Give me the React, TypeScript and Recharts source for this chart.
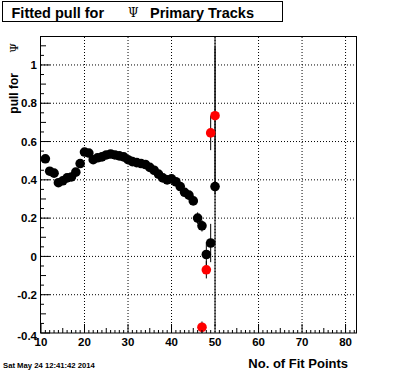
import { ScatterChart, Scatter, XAxis, YAxis, CartesianGrid, ErrorBar } from 'recharts'

// black graph: fit points 11..50
const fitPoints = [
  11, 12, 13, 14, 15, 16, 17, 18, 19, 20,
  21, 22, 23, 24, 25, 26, 27, 28, 29, 30,
  31, 32, 33, 34, 35, 36, 37, 38, 39, 40,
  41, 42, 43, 44, 45, 46, 47, 48, 49, 50,
]
const pullMean = [
  0.51, 0.445, 0.435, 0.385, 0.395, 0.41, 0.415, 0.44, 0.485, 0.545,
  0.54, 0.505, 0.515, 0.52, 0.53, 0.535, 0.53, 0.525, 0.52, 0.505,
  0.495, 0.49, 0.485, 0.48, 0.465, 0.45, 0.43, 0.41, 0.4, 0.405,
  0.39, 0.365, 0.335, 0.32, 0.29, 0.2, 0.16, 0.01, 0.07, 0.365,
]
const pullMeanErr = [
  0.02, 0.01, 0.01, 0.01, 0.01, 0.01, 0.01, 0.01, 0.01, 0.01,
  0.01, 0.01, 0.01, 0.01, 0.01, 0.01, 0.01, 0.01, 0.01, 0.01,
  0.01, 0.01, 0.01, 0.01, 0.01, 0.01, 0.01, 0.01, 0.01, 0.01,
  0.01, 0.01, 0.01, 0.01, 0.015, 0.03, 0.03, 0.065, 0.1, 0.73,
]

// red graph
const redPoints = [47, 48, 49, 50]
const redMean = [-0.37, -0.07, 0.645, 0.735]
const redErr = [0.03, 0.045, 0.09, 0.41]

const xMajor = [10, 20, 30, 40, 50, 60, 70, 80]
const yMajor = [-0.4, -0.2, 0, 0.2, 0.4, 0.6, 0.8, 1]

const xTicks: number[] = []
for (let v = 10; v <= 82; v++) xTicks.push(v)
const yTicks: number[] = []
for (let c = -40; c <= 110; c += 5) yTicks.push(c / 100)

const black = fitPoints.map((x, i) => ({ x, y: pullMean[i], err: pullMeanErr[i] }))
const red = redPoints.map((x, i) => ({ x, y: redMean[i], err: redErr[i] }))

const FONT = '"Liberation Sans", Arial, Helvetica, sans-serif'

function XTick(props: any) {
  const { x, y, payload } = props
  const v = payload.value
  const len = v % 10 === 0 ? 9 : v % 5 === 0 ? 5 : 3
  return (
    <g>
      <line x1={x} x2={x} y1={y} y2={y - len} stroke="#000" />
      {xMajor.includes(v) && (
        <text x={x} y={y + 13} textAnchor="middle" fontFamily={FONT} fontWeight="bold" fontSize={11.5} fill="#000">
          {v}
        </text>
      )}
    </g>
  )
}

function YTick(props: any) {
  const { x, y, payload } = props
  const c = Math.round(payload.value * 100)
  const len = c % 20 === 0 ? 9 : c % 10 === 0 ? 5 : 3
  const major = c % 20 === 0 && c <= 100
  return (
    <g>
      <line x1={x} x2={x + len} y1={y} y2={y} stroke="#000" />
      {major && (
        <text x={x - 4} y={y + (c === -40 ? 3 : 0)} dy="0.36em" textAnchor="end" fontFamily={FONT} fontWeight="bold" fontSize={11.5} fill="#000">
          {String(c / 100)}
        </text>
      )}
    </g>
  )
}

const dot = (color: string) => (p: any) => <circle cx={p.cx} cy={p.cy} r={4.8} fill={color} />

export default function App() {
  return (
    <div style={{ position: 'relative', width: 396, height: 372, background: '#fff' }}>
      <style>{'body{margin:0}'}</style>
      <ScatterChart width={396} height={372} margin={{ top: 37, right: 40, bottom: 0, left: 0 }}>
        <CartesianGrid
          stroke="#000"
          strokeDasharray="1 2"
          horizontalValues={yMajor.filter((v) => v > -0.4)}
          verticalValues={xMajor.filter((v) => v > 10)}
        />
        <XAxis
          type="number"
          dataKey="x"
          domain={[10, 82.4]}
          allowDataOverflow
          ticks={xTicks}
          interval={0}
          height={39}
          tickSize={0}
          tickMargin={0}
          axisLine={false}
          tickLine={false}
          tick={<XTick />}
        />
        <YAxis
          type="number"
          dataKey="y"
          domain={[-0.4, 1.146]}
          allowDataOverflow
          ticks={yTicks}
          interval={0}
          width={41}
          tickSize={0}
          tickMargin={0}
          axisLine={false}
          tickLine={false}
          tick={<YTick />}
        />
        <Scatter data={black} shape={dot('#000')} isAnimationActive={false}>
          <ErrorBar dataKey="err" direction="y" width={0} stroke="#000" strokeWidth={1} isAnimationActive={false} />
        </Scatter>
        <Scatter data={red} shape={dot('#ff0000')} isAnimationActive={false}>
          <ErrorBar dataKey="err" direction="y" width={0} stroke="#000" strokeWidth={1} isAnimationActive={false} />
        </Scatter>
      </ScatterChart>
      <svg width={396} height={372} style={{ position: 'absolute', left: 0, top: 0, pointerEvents: 'none' }}>
        <rect x={40.5} y={36.5} width={316} height={296.5} fill="none" stroke="#000" />
        <rect x={2.5} y={1.5} width={280} height={20} fill="none" stroke="#000" />
        <text x={11.5} y={17.5} fontFamily={FONT} fontWeight="bold" fontSize={14.5} fill="#000">Fitted pull for</text>
        <text x={128} y={17} fontFamily='"DejaVu Serif", serif' fontSize={12} fill="#000">Ψ</text>
        <text x={150} y={17.5} fontFamily={FONT} fontWeight="bold" fontSize={14.5} fill="#000">Primary Tracks</text>
        <text x={18} y={73} transform="rotate(-90 18 73)" textAnchor="end" fontFamily={FONT} fontWeight="bold" fontSize={12} fill="#000">pull for</text>
        <text x={18} y={43} transform="rotate(-90 18 43)" textAnchor="end" fontFamily='"DejaVu Serif", serif' fontSize={11} fill="#000">Ψ</text>
        <text x={348} y={368} textAnchor="end" fontFamily={FONT} fontWeight="bold" fontSize={13} fill="#000">No. of Fit Points</text>
        <text x={3} y={368} fontFamily={FONT} fontWeight="bold" fontSize={7.7} fill="#000">Sat May 24 12:41:42 2014</text>
      </svg>
    </div>
  )
}
